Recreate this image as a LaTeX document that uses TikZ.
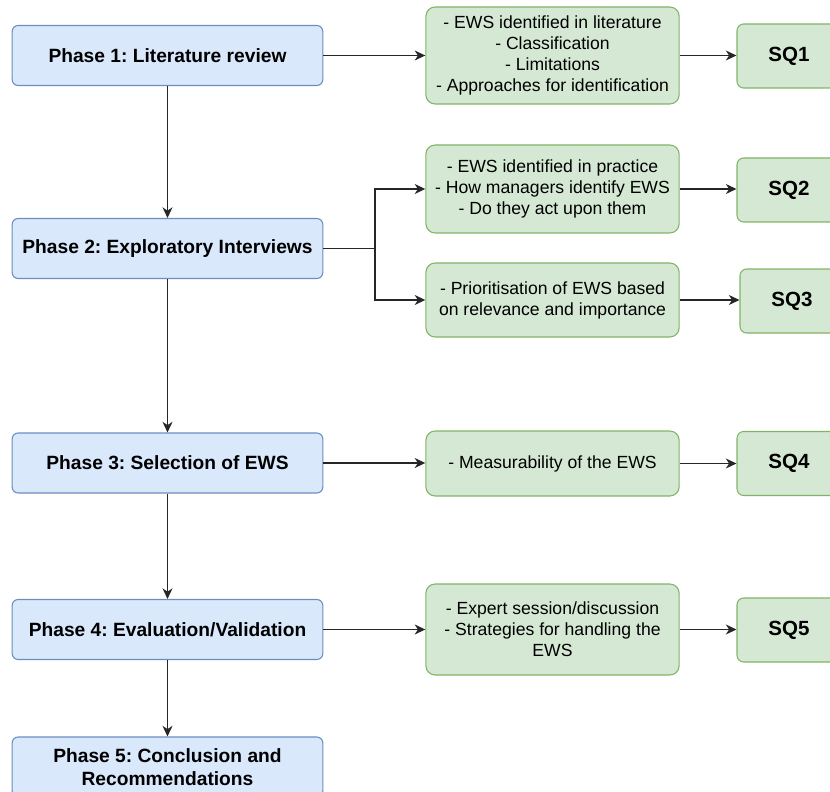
\documentclass[tikz,border=0pt]{standalone}
\usepackage{fontspec}
\setmainfont{Liberation Sans}
\usetikzlibrary{arrows.meta}
\frenchspacing

\definecolor{phasefill}{HTML}{DAE8FC}
\definecolor{phaseline}{HTML}{6C8EBF}
\definecolor{notefill}{HTML}{D5E8D4}
\definecolor{noteline}{HTML}{82B366}

\tikzset{
  phasebox/.style={draw=phaseline, fill=phasefill, rounded corners=4.5pt, line width=0.8pt,
    minimum width=233pt, minimum height=45pt, inner sep=0pt, align=center,
    font=\fontsize{14.4}{17.5}\selectfont\bfseries},
  notebox/.style={draw=noteline, fill=notefill, rounded corners=7pt, line width=0.8pt,
    minimum width=190pt, inner sep=0pt, align=center,
    font=\fontsize{13.2}{15.8}\selectfont},
  sqbox/.style={draw=noteline, fill=notefill, rounded corners=5pt, line width=0.8pt,
    minimum width=78pt, minimum height=48pt, inner sep=0pt,
    font=\fontsize{15.4}{18}\selectfont\bfseries},
  wire/.style={draw=black!85, line width=1pt},
  flow/.style={wire, -{Stealth[length=8pt,width=7.5pt,inset=2.5pt]}}
}

\begin{document}
\begin{tikzpicture}[x=0.75pt, y=-0.75pt]
  \useasboundingbox (0,0) rectangle (830,791);
  \clip (0,0) rectangle (830,791);

  % research phases
  \node[phasebox] (p1) at (167.5,55.5) {Phase 1: Literature review};
  \node[phasebox] (p2) at (167.5,248.5) {Phase 2: Exploratory Interviews};
  \node[phasebox] (p3) at (167.5,463) {Phase 3: Selection of EWS};
  \node[phasebox] (p4) at (167.5,629.5) {Phase 4: Evaluation/Validation};
  \node[phasebox] (p5) at (167.5,767) {Phase 5: Conclusion and\\Recommendations};

  % outcomes of each phase
  \node[notebox, minimum height=72.75pt] (g1) at (552.5,55.5)
    {- EWS identified in literature\\- Classification\\- Limitations\\- Approaches for identification};
  \node[notebox, minimum height=66pt] (g2) at (552.5,189)
    {- EWS identified in practice\\- How managers identify EWS\\- Do they act upon them};
  \node[notebox, minimum height=55.5pt] (g3) at (552.5,300)
    {- Prioritisation of EWS based\\on relevance and importance};
  \node[notebox, minimum height=48.75pt] (g4) at (552.5,463.5)
    {- Measurability of the EWS};
  \node[notebox, minimum height=68.25pt] (g5) at (552.5,629.5)
    {- Expert session/discussion\\- Strategies for handling the\\EWS};

  % sub-questions
  \node[sqbox] (s1) at (789,56) {SQ1};
  \node[sqbox] (s2) at (789,190) {SQ2};
  \node[sqbox] (s3) at (792,301) {SQ3};
  \node[sqbox] (s4) at (789,463.5) {SQ4};
  \node[sqbox] (s5) at (789,630) {SQ5};

  % phase sequence
  \draw[flow] (p1) -- (p2);
  \draw[flow] (p2) -- (p3);
  \draw[flow] (p3) -- (p4);
  \draw[flow] (p4) -- (p5);

  % phase to outcomes
  \coordinate (split) at (375,248.5);
  \draw[flow] (p1.east) -- (p1.east -| g1.west);
  \draw[wire] (p2.east) -- (split);
  \draw[flow] (split) |- (g2.west);
  \draw[flow] (split) |- (g3.west);
  \draw[flow] (p3.east) -- (p3.east -| g4.west);
  \draw[flow] (p4.east) -- (p4.east -| g5.west);

  % outcomes to sub-questions
  \draw[flow] (g1.east) -- (g1.east -| s1.west);
  \draw[flow] (g2.east) -- (g2.east -| s2.west);
  \draw[flow] (g3.east) -- (g3.east -| s3.west);
  \draw[flow] (g4.east) -- (g4.east -| s4.west);
  \draw[flow] (g5.east) -- (g5.east -| s5.west);
\end{tikzpicture}
\end{document}
